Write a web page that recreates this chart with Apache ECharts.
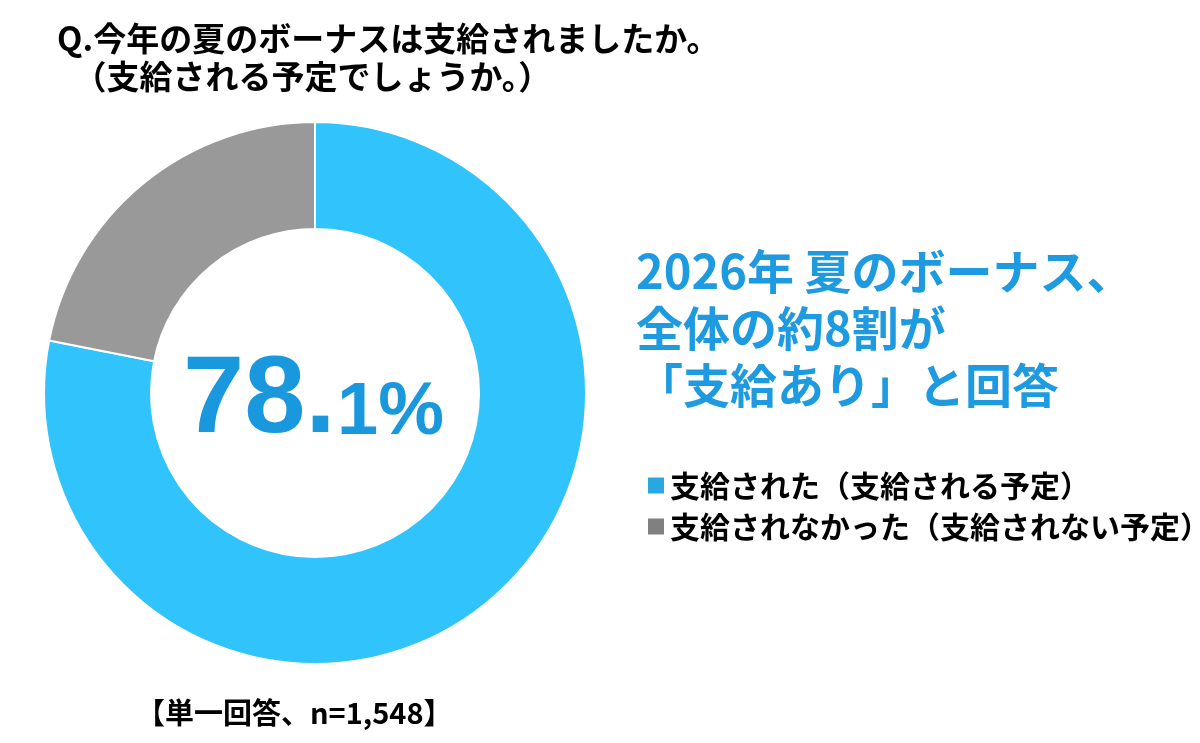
<!DOCTYPE html>
<html>
<head>
<meta charset="utf-8">
<script src="https://cdn.jsdelivr.net/npm/echarts@6/dist/echarts.min.js"></script>
<style>
html,body{margin:0;padding:0;background:#fff;}
#main{width:1200px;height:743px;}
</style>
</head>
<body>
<div id="main"></div>
<script>
// ---- data ----
const CATEGORIES = ['支給された（支給される予定）', '支給されなかった（支給されない予定）'];
const VALUES = [78.1, 21.9];
const SLICE_COLORS = ['#31C4FC', '#999999'];
const LEGEND_COLORS = ['#29A8E0', '#808080'];
const TITLE_LINES = ['Q.今年の夏のボーナスは支給されましたか。', '　（支給される予定でしょうか。）'];
const HEADLINE_LINES = ['2026年 夏のボーナス、', '全体の約8割が', '「支給あり」と回答'];
const NOTE = '【単一回答、n=1,548】';

const pctStr = VALUES[0].toFixed(1);
const intPart = pctStr.split('.')[0] + '.';
const decPart = pctStr.split('.')[1] + '%';

const CJK = '"Noto Sans CJK JP", "Noto Sans", sans-serif';
const LAT = '"Liberation Sans", Arial, sans-serif';
const chart = echarts.init(document.getElementById('main'));
chart.setOption({
  backgroundColor: '#ffffff',
  animation: false,
  legend: {
    orient: 'vertical',
    left: 641,
    top: 465,
    icon: 'rect',
    itemWidth: 18,
    itemHeight: 18,
    itemGap: 10,
    selectedMode: false,
    textStyle: { fontSize: 30, fontWeight: 'bold', color: '#000', fontFamily: CJK, lineHeight: 31 },
    data: CATEGORIES.map((c, i) => ({ name: c, itemStyle: { color: LEGEND_COLORS[i] } }))
  },
  series: [{
    type: 'pie',
    center: [315, 393],
    radius: [164, 271],
    startAngle: 90,
    clockwise: true,
    label: { show: false },
    labelLine: { show: false },
    emphasis: { scale: false },
    itemStyle: { borderColor: '#ffffff', borderWidth: 2 },
    data: CATEGORIES.map((c, i) => ({ name: c, value: VALUES[i], itemStyle: { color: SLICE_COLORS[i] } }))
  }],
  graphic: [
    { type: 'text', x: 57, y: 19, style: { text: TITLE_LINES.join('\n'), fontSize: 33, fontWeight: 'bold', fontFamily: CJK, fill: '#000', lineHeight: 38, textVerticalAlign: 'top' } },
    { type: 'text', x: 636, y: 243, style: { text: HEADLINE_LINES.join('\n'), fontSize: 47, fontWeight: 'bold', fontFamily: CJK, fill: '#1E9BE0', lineHeight: 57, textVerticalAlign: 'top' } },
    { type: 'text', x: 183, y: 402, style: { text: intPart, fontSize: 110, fontWeight: 'bold', fontFamily: LAT, fill: '#1A98DD', textAlign: 'left', textVerticalAlign: 'middle' } },
    { type: 'text', x: 337, y: 414, style: { text: decPart, fontSize: 74, fontWeight: 'bold', fontFamily: LAT, fill: '#1A98DD', textAlign: 'left', textVerticalAlign: 'middle' } },
    { type: 'text', x: 136, y: 713, style: { text: NOTE, fontSize: 29, fontWeight: 'bold', fontFamily: CJK, fill: '#000', textVerticalAlign: 'middle' } }
  ]
});
</script>
</body>
</html>
